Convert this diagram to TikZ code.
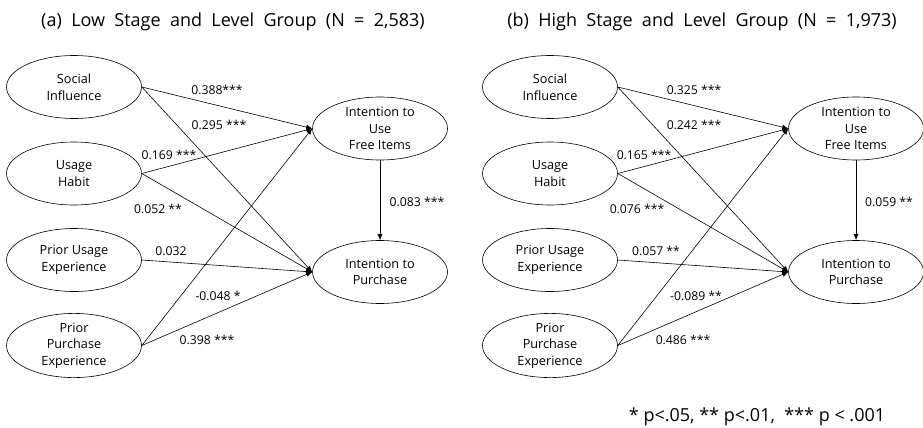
\documentclass[tikz,border=0pt]{standalone}
\usepackage{fontspec}
\setmainfont{Open Sans}
\usetikzlibrary{shapes.geometric,arrows.meta}

\tikzset{
  latent/.style={draw, ellipse, line width=0.6pt, minimum width=135pt, minimum height=63pt,
    inner sep=0pt, align=center, font=\fontsize{12.7}{16.5}\selectfont},
  coef/.style={inner sep=0pt, font=\fontsize{12.2}{14}\selectfont},
  effect/.style={line width=0.6pt, -{Latex[length=6pt,width=5pt]}},
  heading/.style={inner sep=0pt, font=\fontsize{18}{21}\selectfont}
}

\begin{document}
\begin{tikzpicture}[x=1pt, y=-1pt]
    \useasboundingbox (0,0) rectangle (923,428);

    % Panel (a)
    \node[heading] (a-title) at (233,22) {(a)~ Low~ Stage~ and~ Level~ Group~ (N~ =~ 2,583)};
    \node[latent] (a-si) at (74,87)    {Social\\Influence};
    \node[latent] (a-uh) at (74,173.5) {Usage\\Habit};
    \node[latent] (a-pu) at (74,260)   {Prior Usage\\Experience};
    \node[latent] (a-pp) at (74,345.5) {Prior\\Purchase\\Experience};
    \node[latent] (a-iu) at (380,128.5) {Intention to\\Use\\Free Items};
    \node[latent] (a-ip) at (380,272)  {Intention to\\Purchase};

    \draw[effect] (a-si.east) -- (a-iu.west);
    \draw[effect] (a-si.east) -- (a-ip.west);
    \draw[effect] (a-uh.east) -- (a-iu.west);
    \draw[effect] (a-uh.east) -- (a-ip.west);
    \draw[effect] (a-pu.east) -- (a-ip.west);
    \draw[effect] (a-pp.east) -- (a-iu.west);
    \draw[effect] (a-pp.east) -- (a-ip.west);
    \draw[effect] (a-iu.south) -- (a-ip.north);

    \node[coef] (a-c1) at (217,90)  {0.388***};
    \node[coef] (a-c2) at (219,125) {0.295 ***};
    \node[coef] (a-c3) at (169,155) {0.169 ***};
    \node[coef] (a-c4) at (158,209) {0.052 **};
    \node[coef] (a-c5) at (417,202) {0.083 ***};
    \node[coef] (a-c6) at (171,251) {0.032};
    \node[coef] (a-c7) at (218,296) {-0.048 *};
    \node[coef] (a-c8) at (207,340) {0.398 ***};

    % Panel (b)
    \node[heading] (b-title) at (702,22) {(b)~ High~ Stage~ and~ Level~ Group~ (N~ =~ 1,973)};
    \node[latent] (b-si) at (550,87)    {Social\\Influence};
    \node[latent] (b-uh) at (550,173.5) {Usage\\Habit};
    \node[latent] (b-pu) at (550,260)   {Prior Usage\\Experience};
    \node[latent] (b-pp) at (550,345.5) {Prior\\Purchase\\Experience};
    \node[latent] (b-iu) at (856,128.5) {Intention to\\Use\\Free Items};
    \node[latent] (b-ip) at (856,272)   {Intention to\\Purchase};

    \draw[effect] (b-si.east) -- (b-iu.west);
    \draw[effect] (b-si.east) -- (b-ip.west);
    \draw[effect] (b-uh.east) -- (b-iu.west);
    \draw[effect] (b-uh.east) -- (b-ip.west);
    \draw[effect] (b-pu.east) -- (b-ip.west);
    \draw[effect] (b-pp.east) -- (b-iu.west);
    \draw[effect] (b-pp.east) -- (b-ip.west);
    \draw[effect] (b-iu.south) -- (b-ip.north);

    \node[coef] (b-c1) at (694,90)  {0.325 ***};
    \node[coef] (b-c2) at (694,125) {0.242 ***};
    \node[coef] (b-c3) at (644,155) {0.165 ***};
    \node[coef] (b-c4) at (637,209) {0.076 ***};
    \node[coef] (b-c5) at (889,202) {0.059 **};
    \node[coef] (b-c6) at (656,251) {0.057 **};
    \node[coef] (b-c7) at (696,296) {-0.089 **};
    \node[coef] (b-c8) at (683,340) {0.486 ***};

    % Significance note
    \node[heading] (note) at (757,417) {* p<.05, ** p<.01,~ *** p < .001};
\end{tikzpicture}
\end{document}
